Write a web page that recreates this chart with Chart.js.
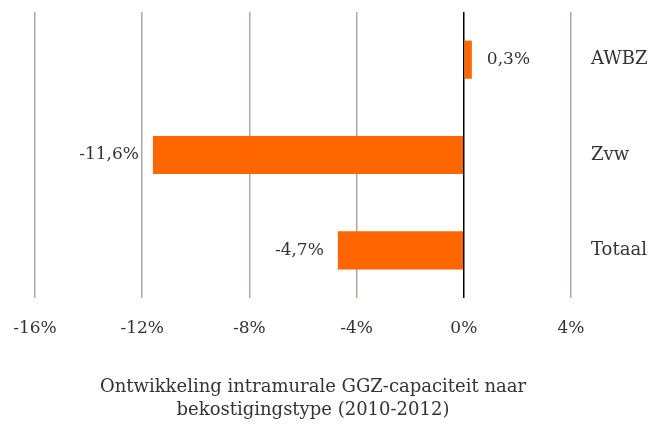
<!DOCTYPE html>
<html>
<head>
<meta charset="utf-8">
<script src="https://cdn.jsdelivr.net/npm/chart.js@4"></script>
<style>
  body { margin: 0; background: #fff; }
</style>
</head>
<body>
<canvas id="chart" width="651" height="424"></canvas>
<script>
const categories = ['AWBZ', 'Zvw', 'Totaal'];
const values = [0.3, -11.6, -4.7];
const tickValues = [-16, -12, -8, -4, 0, 4];
const titleLines = ['Ontwikkeling intramurale GGZ-capaciteit naar', 'bekostigingstype (2010-2012)'];

const FONT = '"DejaVu Serif", serif';
const TEXT = '#333333';

const fmt = v => String(v).replace('.', ',') + '%';

// value labels next to the bars + title underneath
const extras = {
    id: 'extras',
    afterDatasetsDraw(chart) {
        const ctx = chart.ctx;
        const meta = chart.getDatasetMeta(0);
        ctx.save();
        ctx.font = '17px ' + FONT;
        ctx.fillStyle = TEXT;
        ctx.textBaseline = 'middle';
        meta.data.forEach((bar, i) => {
            const v = values[i];
            if (v >= 0) {
                ctx.textAlign = 'left';
                ctx.fillText(fmt(v), bar.x + 15, bar.y);
            } else {
                ctx.textAlign = 'right';
                ctx.fillText(fmt(v), bar.x - 14, bar.y);
            }
        });
        ctx.font = '18px ' + FONT;
        ctx.textAlign = 'center';
        titleLines.forEach((line, i) => {
            ctx.fillText(line, 313, 387 + i * 23);
        });
        ctx.restore();
    }
};

new Chart(document.getElementById('chart'), {
    type: 'bar',
    data: {
        labels: categories,
        datasets: [{
            data: values,
            backgroundColor: '#ff6600',
            borderWidth: 0,
            barPercentage: 0.4,
            categoryPercentage: 1
        }]
    },
    options: {
        indexAxis: 'y',
        responsive: false,
        animation: false,
        layout: { padding: { top: 12, left: 35, right: 0, bottom: 0 } },
        plugins: {
            legend: { display: false },
            tooltip: { enabled: false }
        },
        scales: {
            x: {
                min: -16,
                max: 4,
                afterBuildTicks: scale => { scale.ticks = tickValues.map(v => ({ value: v })); },
                afterFit: scale => {
                    scale.height = 126;
                    scale.paddingLeft = 0;
                    scale.paddingRight = 0;
                },
                grid: {
                    drawTicks: false,
                    lineWidth: 1.5,
                    color: c => (c.tick && c.tick.value === 0) ? '#000000' : '#b0a89d'
                },
                border: { display: false },
                ticks: {
                    padding: 20,
                    color: TEXT,
                    font: { family: FONT, size: 17 },
                    callback: v => v + '%'
                }
            },
            y: {
                position: 'right',
                afterFit: scale => {
                    scale.width = 80;
                    scale.paddingTop = 0;
                    scale.paddingBottom = 0;
                },
                grid: { display: false, drawTicks: false },
                border: { display: false },
                ticks: {
                    padding: 20,
                    color: TEXT,
                    font: { family: FONT, size: 18 }
                }
            }
        }
    },
    plugins: [extras]
});
</script>
</body>
</html>
